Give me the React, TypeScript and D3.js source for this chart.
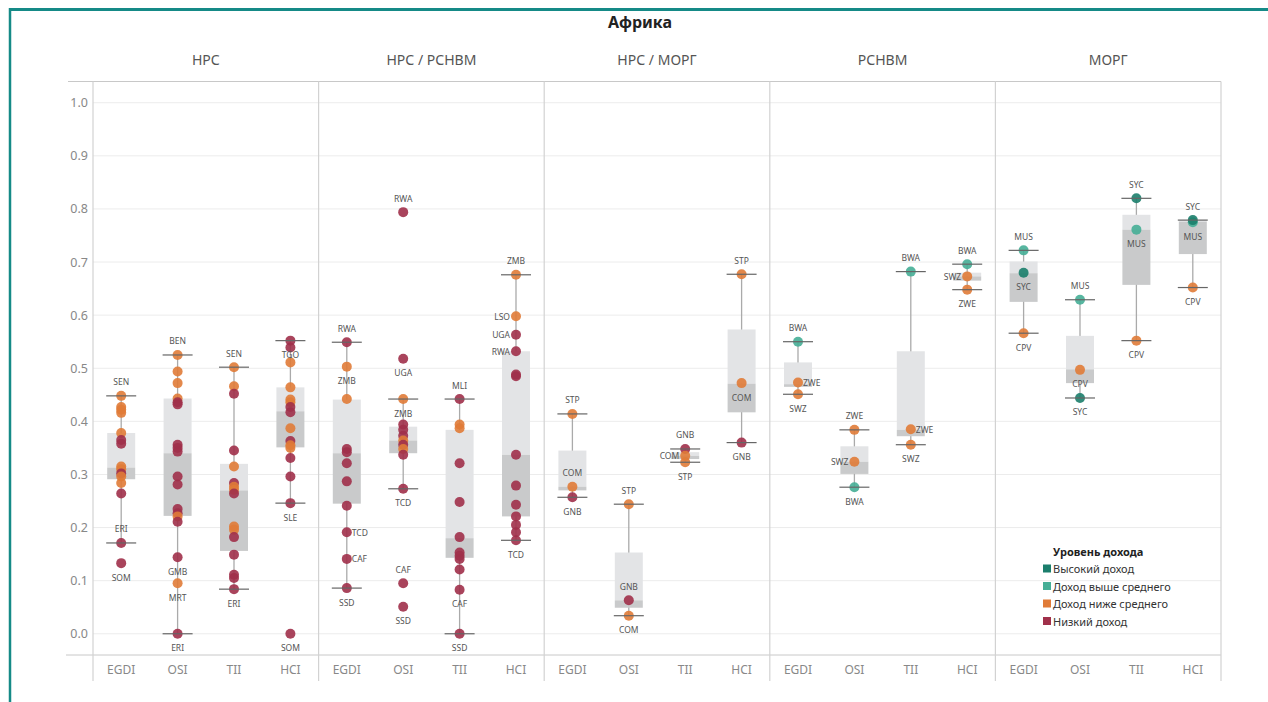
import React from "react";
import * as d3 from "d3";

const title = "Африка";
const panels = ["НРС", "НРС / РСНВМ", "НРС / МОРГ", "РСНВМ", "МОРГ"];
const indices = ["EGDI", "OSI", "TII", "HCI"];
const yTicks = [0, 0.1, 0.2, 0.3, 0.4, 0.5, 0.6, 0.7, 0.8, 0.9, 1.0];
const incomeKeys = ["H", "UM", "LM", "L"];
const incomeLabels = ["Высокий доход", "Доход выше среднего", "Доход ниже среднего", "Низкий доход"];
const legendTitle = "Уровень дохода";

type Pt = [string, number, string, string?];

// Points per panel: [index, value, income, code]
const ptsNRS: Pt[] = [
  ["EGDI", 0.448, "LM", "SEN"], ["EGDI", 0.427, "LM"], ["EGDI", 0.422, "LM"], ["EGDI", 0.416, "LM"],
  ["EGDI", 0.378, "LM"], ["EGDI", 0.365, "L"], ["EGDI", 0.358, "L"], ["EGDI", 0.315, "LM"],
  ["EGDI", 0.31, "LM"], ["EGDI", 0.302, "L"], ["EGDI", 0.296, "LM"], ["EGDI", 0.284, "LM"],
  ["EGDI", 0.264, "L"], ["EGDI", 0.171, "L", "ERI"], ["EGDI", 0.133, "L", "SOM"],
  ["OSI", 0.525, "LM", "BEN"], ["OSI", 0.494, "LM"], ["OSI", 0.472, "LM"], ["OSI", 0.443, "LM"],
  ["OSI", 0.436, "L"], ["OSI", 0.432, "L"], ["OSI", 0.356, "L"], ["OSI", 0.35, "L"], ["OSI", 0.343, "L"],
  ["OSI", 0.296, "L"], ["OSI", 0.281, "L"], ["OSI", 0.235, "L"], ["OSI", 0.227, "L"], ["OSI", 0.221, "LM"],
  ["OSI", 0.211, "L"], ["OSI", 0.144, "L", "GMB"], ["OSI", 0.095, "LM", "MRT"], ["OSI", 0.0, "L", "ERI"],
  ["TII", 0.502, "LM", "SEN"], ["TII", 0.466, "LM"], ["TII", 0.452, "L"], ["TII", 0.345, "L"],
  ["TII", 0.315, "LM"], ["TII", 0.284, "L"], ["TII", 0.277, "LM"], ["TII", 0.271, "LM"], ["TII", 0.264, "L"],
  ["TII", 0.202, "LM"], ["TII", 0.196, "LM"], ["TII", 0.182, "L"], ["TII", 0.149, "L"], ["TII", 0.111, "L"],
  ["TII", 0.105, "L"], ["TII", 0.084, "L", "ERI"],
  ["HCI", 0.552, "L", "TGO"], ["HCI", 0.539, "L"], ["HCI", 0.511, "LM"], ["HCI", 0.464, "LM"],
  ["HCI", 0.441, "LM"], ["HCI", 0.436, "LM"], ["HCI", 0.427, "L"], ["HCI", 0.417, "L"], ["HCI", 0.387, "LM"],
  ["HCI", 0.363, "L"], ["HCI", 0.355, "LM"], ["HCI", 0.35, "LM"], ["HCI", 0.331, "L"], ["HCI", 0.296, "L"],
  ["HCI", 0.246, "L", "SLE"], ["HCI", 0.0, "L", "SOM"],
];
const ptsNRSRSNVM: Pt[] = [
  ["EGDI", 0.549, "L", "RWA"], ["EGDI", 0.503, "LM", "ZMB"], ["EGDI", 0.442, "LM"], ["EGDI", 0.348, "L"],
  ["EGDI", 0.342, "L"], ["EGDI", 0.321, "L"], ["EGDI", 0.287, "L"], ["EGDI", 0.241, "L"],
  ["EGDI", 0.191, "L", "TCD"], ["EGDI", 0.141, "L", "CAF"], ["EGDI", 0.086, "L", "SSD"],
  ["OSI", 0.794, "L", "RWA"], ["OSI", 0.518, "L", "UGA"], ["OSI", 0.442, "LM", "ZMB"], ["OSI", 0.394, "L"],
  ["OSI", 0.384, "L"], ["OSI", 0.373, "L"], ["OSI", 0.364, "LM"], ["OSI", 0.356, "L"], ["OSI", 0.348, "LM"],
  ["OSI", 0.337, "L"], ["OSI", 0.273, "L", "TCD"], ["OSI", 0.095, "L", "CAF"], ["OSI", 0.051, "L", "SSD"],
  ["TII", 0.442, "L", "MLI"], ["TII", 0.394, "LM"], ["TII", 0.387, "LM"], ["TII", 0.321, "L"], ["TII", 0.248, "L"],
  ["TII", 0.182, "L"], ["TII", 0.153, "L"], ["TII", 0.147, "L"], ["TII", 0.141, "L"], ["TII", 0.121, "L"],
  ["TII", 0.083, "L", "CAF"], ["TII", 0.0, "L", "SSD"],
  ["HCI", 0.676, "LM", "ZMB"], ["HCI", 0.598, "LM", "LSO"], ["HCI", 0.563, "L", "UGA"], ["HCI", 0.532, "L", "RWA"],
  ["HCI", 0.488, "L"], ["HCI", 0.485, "L"], ["HCI", 0.337, "L"], ["HCI", 0.279, "L"], ["HCI", 0.243, "L"],
  ["HCI", 0.221, "L"], ["HCI", 0.205, "L"], ["HCI", 0.191, "L"], ["HCI", 0.176, "L", "TCD"],
];
const ptsNRSMORG: Pt[] = [
  ["EGDI", 0.414, "LM", "STP"], ["EGDI", 0.277, "LM", "COM"], ["EGDI", 0.257, "L", "GNB"],
  ["OSI", 0.244, "LM", "STP"], ["OSI", 0.063, "L", "GNB"], ["OSI", 0.034, "LM", "COM"],
  ["TII", 0.348, "L", "GNB"], ["TII", 0.335, "LM", "COM"], ["TII", 0.323, "LM", "STP"],
  ["HCI", 0.677, "LM", "STP"], ["HCI", 0.472, "LM", "COM"], ["HCI", 0.36, "L", "GNB"],
];
const ptsRSNVM: Pt[] = [
  ["EGDI", 0.55, "UM", "BWA"], ["EGDI", 0.473, "LM", "ZWE"], ["EGDI", 0.451, "LM", "SWZ"],
  ["OSI", 0.384, "LM", "ZWE"], ["OSI", 0.324, "LM", "SWZ"], ["OSI", 0.276, "UM", "BWA"],
  ["TII", 0.682, "UM", "BWA"], ["TII", 0.385, "LM", "ZWE"], ["TII", 0.356, "LM", "SWZ"],
  ["HCI", 0.696, "UM", "BWA"], ["HCI", 0.673, "LM", "SWZ"], ["HCI", 0.648, "LM", "ZWE"],
];
const ptsMORG: Pt[] = [
  ["EGDI", 0.722, "UM", "MUS"], ["EGDI", 0.68, "H", "SYC"], ["EGDI", 0.566, "LM", "CPV"],
  ["OSI", 0.629, "UM", "MUS"], ["OSI", 0.497, "LM", "CPV"], ["OSI", 0.444, "H", "SYC"],
  ["TII", 0.82, "H", "SYC"], ["TII", 0.761, "UM", "MUS"], ["TII", 0.552, "LM", "CPV"],
  ["HCI", 0.775, "UM", "MUS"], ["HCI", 0.779, "H", "SYC"], ["HCI", 0.652, "LM", "CPV"],
];
const panelPoints = [ptsNRS, ptsNRSRSNVM, ptsNRSMORG, ptsRSNVM, ptsMORG];

// Box stats per panel: [index, whiskerLow, q1, median, q3, whiskerHigh]
type Bx = [string, number, number, number, number, number];
const boxNRS: Bx[] = [
  ["EGDI", 0.171, 0.291, 0.313, 0.378, 0.448],
  ["OSI", 0.0, 0.222, 0.34, 0.443, 0.525],
  ["TII", 0.084, 0.156, 0.27, 0.32, 0.502],
  ["HCI", 0.246, 0.351, 0.419, 0.464, 0.552],
];
const boxNRSRSNVM: Bx[] = [
  ["EGDI", 0.086, 0.245, 0.34, 0.441, 0.549],
  ["OSI", 0.273, 0.34, 0.364, 0.39, 0.442],
  ["TII", 0.0, 0.143, 0.18, 0.384, 0.442],
  ["HCI", 0.176, 0.221, 0.337, 0.532, 0.676],
];
const boxNRSMORG: Bx[] = [
  ["EGDI", 0.257, 0.27, 0.277, 0.345, 0.414],
  ["OSI", 0.034, 0.049, 0.063, 0.153, 0.244],
  ["TII", 0.323, 0.329, 0.335, 0.342, 0.348],
  ["HCI", 0.36, 0.417, 0.471, 0.573, 0.677],
];
const boxRSNVM: Bx[] = [
  ["EGDI", 0.451, 0.465, 0.47, 0.511, 0.55],
  ["OSI", 0.276, 0.301, 0.324, 0.353, 0.384],
  ["TII", 0.356, 0.372, 0.384, 0.532, 0.682],
  ["HCI", 0.648, 0.665, 0.673, 0.68, 0.696],
];
const boxMORG: Bx[] = [
  ["EGDI", 0.566, 0.625, 0.679, 0.701, 0.722],
  ["OSI", 0.444, 0.472, 0.498, 0.561, 0.629],
  ["TII", 0.552, 0.657, 0.761, 0.789, 0.82],
  ["HCI", 0.652, 0.715, 0.776, 0.779, 0.779],
];
const panelBoxes = [boxNRS, boxNRSRSNVM, boxNRSMORG, boxRSNVM, boxMORG];

// label side: a = above, b = below, l = left, r = right (default a for top, b otherwise)
const labelSide: Record<string, string> = {
  "0|EGDI|SEN": "a", "0|EGDI|ERI": "a", "0|EGDI|SOM": "b",
  "0|OSI|BEN": "a", "0|OSI|GMB": "b", "0|OSI|MRT": "b", "0|OSI|ERI": "b",
  "0|TII|SEN": "a", "0|TII|ERI": "b", "0|HCI|TGO": "b", "0|HCI|SLE": "b", "0|HCI|SOM": "b",
  "1|EGDI|RWA": "a", "1|EGDI|ZMB": "b", "1|EGDI|TCD": "r", "1|EGDI|CAF": "r", "1|EGDI|SSD": "b",
  "1|OSI|RWA": "a", "1|OSI|UGA": "b", "1|OSI|ZMB": "b", "1|OSI|TCD": "b", "1|OSI|CAF": "a", "1|OSI|SSD": "b",
  "1|TII|MLI": "a", "1|TII|CAF": "b", "1|TII|SSD": "b",
  "1|HCI|ZMB": "a", "1|HCI|LSO": "l", "1|HCI|UGA": "l", "1|HCI|RWA": "l", "1|HCI|TCD": "b",
  "2|EGDI|STP": "a", "2|EGDI|COM": "a", "2|EGDI|GNB": "b",
  "2|OSI|STP": "a", "2|OSI|GNB": "a", "2|OSI|COM": "b",
  "2|TII|GNB": "a", "2|TII|COM": "l", "2|TII|STP": "b",
  "2|HCI|STP": "a", "2|HCI|COM": "b", "2|HCI|GNB": "b",
  "3|EGDI|BWA": "a", "3|EGDI|ZWE": "r", "3|EGDI|SWZ": "b",
  "3|OSI|ZWE": "a", "3|OSI|SWZ": "l", "3|OSI|BWA": "b",
  "3|TII|BWA": "a", "3|TII|ZWE": "r", "3|TII|SWZ": "b",
  "3|HCI|BWA": "a", "3|HCI|SWZ": "l", "3|HCI|ZWE": "b",
  "4|EGDI|MUS": "a", "4|EGDI|SYC": "b", "4|EGDI|CPV": "b",
  "4|OSI|MUS": "a", "4|OSI|CPV": "b", "4|OSI|SYC": "b",
  "4|TII|SYC": "a", "4|TII|MUS": "b", "4|TII|CPV": "b",
  "4|HCI|SYC": "a", "4|HCI|MUS": "b", "4|HCI|CPV": "b",
};

const W = 1268;
const H = 702;
const FONT = "'Noto Sans', 'Open Sans', sans-serif";

export default function App() {
  const plotLeft = 93;
  const plotRight = 1221;
  const plotTop = 81.5;
  const plotBottom = 655;

  const xPanel = d3.scaleBand<string>().domain(panels).range([plotLeft, plotRight]);
  const xInner = d3.scaleBand<string>().domain(indices).range([0, xPanel.bandwidth()]);
  const y = d3.scaleLinear().domain([-0.04, 1.04]).range([plotBottom, plotTop]);
  const color = d3
    .scaleOrdinal<string, string>()
    .domain(incomeKeys)
    .range(["#1b7e6c", "#45ae96", "#e07b37", "#a0304a"]);

  const cx = (pi: number, idx: string) =>
    (xPanel(panels[pi]) as number) + (xInner(idx) as number) + xInner.bandwidth() / 2;

  const boxW = 28;
  const capW = 30;

  return (
    <svg
      width={W}
      height={H}
      style={{ position: "absolute", left: 0, top: 0, background: "#fff" }}
      fontFamily={FONT}
    >
      {/* frame */}
      <line x1={10} x2={W} y1={9.5} y2={9.5} stroke="#158a87" strokeWidth={3} />
      <line x1={10} x2={10} y1={8} y2={H} stroke="#158a87" strokeWidth={2.5} />

      <text x={640} y={22} textAnchor="middle" dominantBaseline="central" fontSize={16} fontWeight={700} fill="#222">
        {title}
      </text>

      {/* panel headers */}
      {panels.map((p) => (
        <text
          key={p}
          x={(xPanel(p) as number) + xPanel.bandwidth() / 2}
          y={59}
          textAnchor="middle"
          dominantBaseline="central"
          fontSize={14}
          fill="#555"
        >
          {p}
        </text>
      ))}

      {/* gridlines */}
      {yTicks.map((t) => (
        <line key={t} x1={plotLeft} x2={plotRight} y1={y(t)} y2={y(t)} stroke="#ececec" strokeWidth={1} />
      ))}
      <line x1={68} x2={plotRight} y1={plotTop} y2={plotTop} stroke="#c8c8c8" strokeWidth={1} />
      <line x1={66} x2={plotRight} y1={plotBottom} y2={plotBottom} stroke="#c8c8c8" strokeWidth={1} />

      {/* vertical separators */}
      {[...panels.map((p) => xPanel(p) as number), plotRight].map((xv, i) => (
        <line key={i} x1={xv} x2={xv} y1={plotTop} y2={681} stroke="#d2d2d2" strokeWidth={1.2} />
      ))}

      {/* y tick labels */}
      {yTicks.map((t) => (
        <text key={t} x={88} y={y(t)} textAnchor="end" dominantBaseline="central" fontSize={12.5} fill="#888">
          {d3.format(".1f")(t)}
        </text>
      ))}

      {/* x tick labels */}
      {panels.map((p, pi) =>
        indices.map((idx) => (
          <text
            key={p + idx}
            x={cx(pi, idx)}
            y={669}
            textAnchor="middle"
            dominantBaseline="central"
            fontSize={12}
            fill="#888"
          >
            {idx}
          </text>
        ))
      )}

      {/* boxes and whiskers */}
      {panelBoxes.map((boxes, pi) =>
        boxes.map(([idx, lo, q1, med, q3, hi]) => {
          const x = cx(pi, idx);
          return (
            <g key={pi + idx}>
              <line x1={x} x2={x} y1={y(hi)} y2={y(lo)} stroke="#aaa" strokeWidth={1.3} />
              <rect x={x - boxW / 2} width={boxW} y={y(q3)} height={y(med) - y(q3)} fill="#e3e4e6" />
              <rect x={x - boxW / 2} width={boxW} y={y(med)} height={y(q1) - y(med)} fill="#c9cacb" />
            </g>
          );
        })
      )}

      {/* points */}
      {panelPoints.map((pts, pi) =>
        pts.map(([idx, v, inc], i) => (
          <circle key={pi + "-" + i} cx={cx(pi, idx)} cy={y(v)} r={5} fill={color(inc)} fillOpacity={0.9} />
        ))
      )}

      {/* caps */}
      {panelBoxes.map((boxes, pi) =>
        boxes.map(([idx, lo, , , , hi]) => {
          const x = cx(pi, idx);
          return (
            <g key={"c" + pi + idx}>
              <line x1={x - capW / 2} x2={x + capW / 2} y1={y(hi)} y2={y(hi)} stroke="#666" strokeWidth={1.2} />
              <line x1={x - capW / 2} x2={x + capW / 2} y1={y(lo)} y2={y(lo)} stroke="#666" strokeWidth={1.2} />
            </g>
          );
        })
      )}

      {/* labels */}
      {panelPoints.map((pts, pi) =>
        pts
          .filter((d) => d[3])
          .map(([idx, v, , code]) => {
            const side = labelSide[`${pi}|${idx}|${code}`] || "b";
            const x = cx(pi, idx);
            const yy = y(v);
            let tx = x;
            let ty = yy;
            let anchor: "middle" | "start" | "end" = "middle";
            if (side === "a") ty = yy - 14;
            else if (side === "b") ty = yy + 14;
            else if (side === "l") {
              tx = x - 6;
              anchor = "end";
            } else if (side === "r") {
              tx = x + 5;
              anchor = "start";
            }
            return (
              <text
                key={pi + idx + code}
                x={tx}
                y={ty}
                textAnchor={anchor}
                dominantBaseline="central"
                fontSize={8.5}
                fill="#555"
              >
                {code}
              </text>
            );
          })
      )}

      {/* legend */}
      <g transform="translate(1043,551)">
        <text x={10} y={0} dominantBaseline="central" fontSize={11} fontWeight={700} fill="#222">
          {legendTitle}
        </text>
        {incomeKeys.map((k, i) => (
          <g key={k} transform={`translate(0,${17.5 * (i + 1)})`}>
            <rect x={0} y={-4} width={8} height={8} fill={color(k)} />
            <text x={10} y={0} dominantBaseline="central" fontSize={11} fill="#333">
              {incomeLabels[i]}
            </text>
          </g>
        ))}
      </g>
    </svg>
  );
}
